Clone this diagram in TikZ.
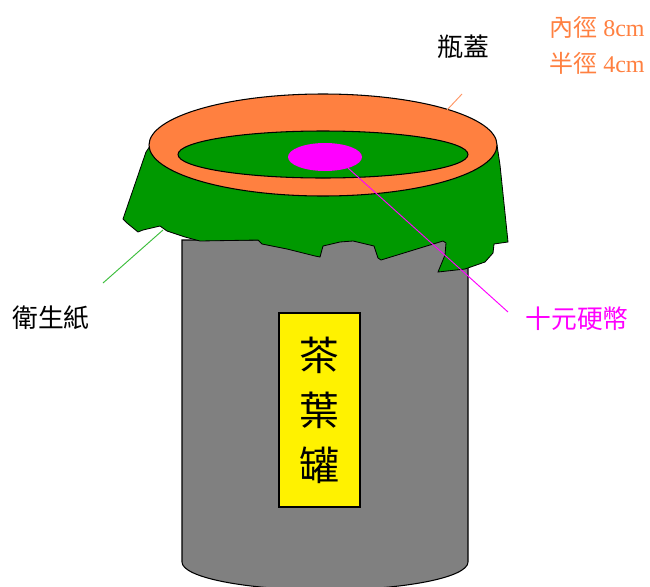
\documentclass[tikz,border=0pt]{standalone}
\usepackage{fontspec}
\setmainfont{Liberation Serif}
\newfontfamily\cjk{Noto Sans CJK TC}
\definecolor{lidOrange}{RGB}{255,128,64}
\definecolor{tissueGreen}{RGB}{0,153,0}
\definecolor{coinPink}{RGB}{255,0,255}
\definecolor{canGray}{RGB}{128,128,128}
\definecolor{capLine}{RGB}{255,150,100}
\definecolor{tissueLine}{RGB}{60,190,60}

\begin{document}
\begin{tikzpicture}[
  x=0.03cm, y=-0.03cm,
  outline/.style={draw=black, line width=0.9pt},
  lbl/.style={font=\cjk\fontsize{22}{26}\selectfont, inner sep=0pt},
  tag/.style={draw=black, line width=1pt, fill=yellow,
              minimum width=2.43cm, minimum height=5.82cm,
              align=center, font=\cjk\fontsize{34}{47}\selectfont},
  lead/.style={line width=0.8pt},
]
\clip (0,0) rectangle (650,586);
\fill[white] (0,0) rectangle (650,586);

% can body
\draw[outline, fill=canGray] (182,240) -- (182,562)
  arc[start angle=180, end angle=0, x radius=143, y radius=28]
  -- (468,240) -- cycle;
\node[tag] (canlabel) at (319.5,410) {茶\\葉\\罐};

% tissue hanging over the rim
\draw[outline, line width=0.7pt, fill=tissueGreen]
  (150,146) -- (146,152) -- (123,219) -- (127,223) -- (138,232)
  -- (143,230) -- (160,226) -- (167,231) -- (185,237) -- (200,241)
  -- (258,240) -- (262,244) -- (287,249) -- (315,256) -- (320,257)
  -- (323,246) -- (340,242) -- (353,241) -- (374,246) -- (378,258)
  -- (381,260) -- (443,241) -- (446,243) -- (445,255) -- (438,272)
  -- (465,269) -- (485,262) -- (493,253) -- (494,244) -- (508,242)
  -- (500,165) -- (497,145) -- (323,145) -- cycle;

% lid, tissue inside and coin
\draw[outline, fill=lidOrange] (323,145) ellipse [x radius=174, y radius=51];
\draw[outline, fill=tissueGreen] (323,154.5) ellipse [x radius=145, y radius=23.5];
\fill[coinPink] (325,157) ellipse [x radius=37, y radius=14];

\coordinate (rim)     at (447,110);
\coordinate (capend)  at (462,94);
\coordinate (edge)    at (163,230);
\coordinate (tisend)  at (103,283);
\coordinate (coin)    at (348,168);
\coordinate (coinend) at (508,312);

\node[lbl] (cap)    at (463,47)  {瓶蓋};
\node[lbl] (tissue) at (51,318)  {衛生紙};
\node[lbl, text=coinPink] (ten) at (577,319) {十元硬幣};
\node[lbl, anchor=west, align=left, text=lidOrange,
      font=\fontsize{20.5}{30.7}\selectfont] (size) at (549,45)
  {{\cjk 內徑} 8cm\\{\cjk 半徑} 4cm};

\draw[lead, capLine]    (rim)  -- (capend);
\draw[lead, tissueLine] (edge) -- (tisend);
\draw[lead, coinPink]   (coin) -- (coinend);
\end{tikzpicture}
\end{document}
